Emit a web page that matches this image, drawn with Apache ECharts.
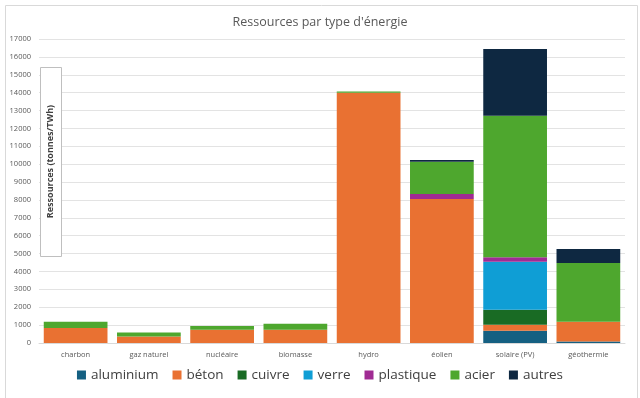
<!DOCTYPE html>
<html>
<head>
<meta charset="utf-8">
<script src="https://cdn.jsdelivr.net/npm/echarts@6/dist/echarts.min.js"></script>
<style>
html, body { margin: 0; padding: 0; background: #fff; }
#chart { width: 640px; height: 398px; }
</style>
</head>
<body>
<div id="chart"></div>
<script>
// catégories et valeurs (tonnes/TWh)
var categories = ['charbon', 'gaz naturel', 'nucléaire', 'biomasse', 'hydro', 'éolien', 'solaire (PV)', 'géothermie']
var aluminium = [0, 0, 0, 0, 0, 0, 690, 80]
var beton     = [840, 370, 740, 740, 14000, 8050, 335, 1110]
var cuivre    = [0, 0, 0, 0, 0, 0, 840, 0]
var verre     = [0, 0, 0, 0, 0, 0, 2685, 0]
var plastique = [0, 0, 0, 0, 0, 280, 240, 0]
var acier     = [350, 220, 210, 340, 60, 1810, 7925, 3285]
var autres    = [0, 0, 0, 0, 0, 100, 3727, 785]

var seriesNames = ['aluminium', 'béton', 'cuivre', 'verre', 'plastique', 'acier', 'autres']
var seriesData = [aluminium, beton, cuivre, verre, plastique, acier, autres]
var colors = ['#156082', '#E97132', '#196B24', '#0F9ED5', '#A02B93', '#4EA72E', '#0E2841']

var font = "'Open Sans', sans-serif"
var chart = echarts.init(document.getElementById('chart'))

var option = {
    animation: false,
    color: colors,
    textStyle: { fontFamily: font },
    title: {
        text: "Ressources par type d'énergie",
        left: 'center',
        top: 11,
        textStyle: { color: '#595959', fontSize: 12.5, fontWeight: 'normal', fontFamily: font }
    },
    legend: {
        bottom: 11,
        left: 'center',
        itemWidth: 9,
        itemHeight: 9,
        itemGap: 14,
        icon: 'rect',
        textStyle: { color: '#404040', fontSize: 13.5, fontFamily: font }
    },
    grid: { left: 39, right: 15, top: 39, bottom: 55, containLabel: false },
    xAxis: {
        type: 'category',
        data: categories,
        axisLine: { lineStyle: { color: '#d9d9d9' } },
        axisTick: { show: false },
        axisLabel: { color: '#595959', fontSize: 7.5, margin: 8, fontFamily: font }
    },
    yAxis: {
        type: 'value',
        min: 0,
        max: 17000,
        interval: 1000,
        axisLine: { show: false },
        axisTick: { show: false },
        splitLine: { lineStyle: { color: '#e3e3e3' } },
        axisLabel: {
            color: '#595959', fontSize: 7.5, margin: 8, fontFamily: font,
            formatter: function (v) { return String(v) }
        }
    },
    graphic: [
        {
            type: 'rect',
            left: 3, top: 3,
            shape: { width: 632, height: 393 },
            style: { fill: 'none', stroke: '#d9d9d9', lineWidth: 1 },
            silent: true, z: -10
        },
        {
            type: 'rect',
            left: 40, top: 67,
            shape: { width: 21, height: 189 },
            style: { fill: '#fff', stroke: '#bfbfbf', lineWidth: 1 },
            z: 10
        },
        {
            type: 'text',
            x: 50.5, y: 161.5,
            rotation: Math.PI / 2,
            style: {
                text: 'Ressources (tonnes/TWh)',
                fill: '#404040',
                font: 'bold 9px ' + font,
                align: 'center',
                verticalAlign: 'middle'
            },
            z: 11
        }
    ],
    series: seriesNames.map(function (name, i) {
        return {
            name: name,
            type: 'bar',
            stack: 'total',
            barCategoryGap: '13%',
            data: seriesData[i]
        }
    })
}

chart.setOption(option)
</script>
</body>
</html>
